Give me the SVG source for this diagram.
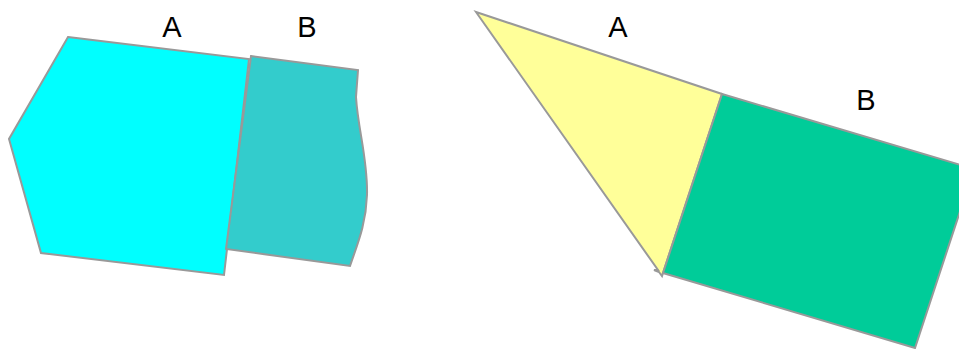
<svg xmlns="http://www.w3.org/2000/svg" width="959" height="349" viewBox="0 0 959 349">
  <style>
    .shape { stroke: #999999; stroke-width: 2; stroke-linejoin: miter; }
    .label { font-family: "Liberation Sans", Arial, sans-serif; font-size: 29px; fill: #000000; text-anchor: middle; }
  </style>
  <rect width="959" height="349" fill="#ffffff"/>

  <!-- Left composition -->
  <g id="left-a">
    <polygon class="shape" fill="#00ffff" points="68,37 249,59 224,275 41,253 9,139"/>
    <text class="label" x="172" y="37">A</text>
  </g>
  <g id="left-b">
    <path class="shape" fill="#33cccc" d="M251,56 L358,70 L356,97 C358,130 368,160 367,195 C366,225 357,245 350,266 L226,249 Z"/>
    <text class="label" x="307" y="37">B</text>
  </g>

  <!-- Right composition -->
  <g id="right-a">
    <polygon class="shape" fill="#ffff99" points="476,12 722,94 662,276 659,272 654,270 658,270"/>
    <text class="label" x="618" y="37">A</text>
  </g>
  <g id="right-b">
    <polygon class="shape" fill="#00cc99" points="722,94 974,169 915,348 663,273"/>
    <text class="label" x="866" y="110">B</text>
  </g>

  <g id="connectors"></g>
</svg>
